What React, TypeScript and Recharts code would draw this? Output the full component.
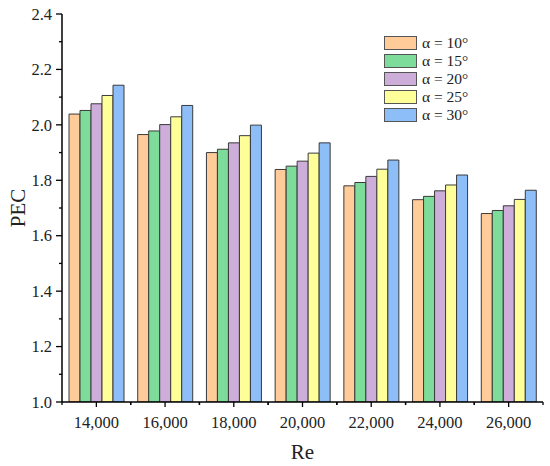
import React from 'react';
import { BarChart, Bar, XAxis, YAxis, Legend } from 'recharts';

const categories = ['14,000', '16,000', '18,000', '20,000', '22,000', '24,000', '26,000'];
const alpha10 = [2.039, 1.965, 1.900, 1.839, 1.780, 1.730, 1.680];
const alpha15 = [2.052, 1.978, 1.912, 1.851, 1.792, 1.742, 1.691];
const alpha20 = [2.076, 2.001, 1.935, 1.869, 1.814, 1.762, 1.708];
const alpha25 = [2.106, 2.029, 1.961, 1.898, 1.840, 1.783, 1.731];
const alpha30 = [2.143, 2.070, 1.999, 1.935, 1.873, 1.819, 1.764];
const seriesNames = ['α = 10°', 'α = 15°', 'α = 20°', 'α = 25°', 'α = 30°'];
const seriesColors = ['#FFCC99', '#7EDC9A', '#CDAEDB', '#FFFF99', '#8DBEF7'];
const yTicks = [1.0, 1.1, 1.2, 1.3, 1.4, 1.5, 1.6, 1.7, 1.8, 1.9, 2.0, 2.1, 2.2, 2.3, 2.4];

const data = categories.map((name, i) => ({
  name,
  a10: alpha10[i],
  a15: alpha15[i],
  a20: alpha20[i],
  a25: alpha25[i],
  a30: alpha30[i],
}));
const keys = ['a10', 'a15', 'a20', 'a25', 'a30'];

const FONT = '"Liberation Serif", "Times New Roman", serif';

const YTick = (props: any) => {
  const { x, y, payload } = props;
  const v = payload.value;
  const major = Math.round(v * 10) % 2 === 0;
  return (
    <g>
      <line x1={x - (major ? 6 : 3)} x2={x} y1={y} y2={y} stroke="#000" strokeWidth={1.3} />
      {major && (
        <text x={x - 10} y={y} dy="0.35em" textAnchor="end" fontFamily={FONT} fontSize={16.5} fill="#222">
          {v.toFixed(1)}
        </text>
      )}
    </g>
  );
};

const XTick = (props: any) => {
  const { x, y, payload } = props;
  const off = payload && typeof payload.offset === 'number' ? payload.offset : 0;
  return (
    <g>
      <line x1={x} x2={x} y1={y} y2={y + 5} stroke="#000" strokeWidth={1.3} />
      {off > 0 && <line x1={x - off} x2={x - off} y1={y} y2={y + 3} stroke="#000" strokeWidth={1.3} />}
      {off > 0 && <line x1={x + off} x2={x + off} y1={y} y2={y + 3} stroke="#000" strokeWidth={1.3} />}
      <text x={x} y={y + 26} textAnchor="middle" fontFamily={FONT} fontSize={16.5} fill="#222">
        {payload.value}
      </text>
    </g>
  );
};

const LegendContent = (props: any) => {
  const { payload } = props;
  return (
    <div style={{ fontFamily: FONT, fontSize: 15.5, color: '#222' }}>
      {(payload || []).map((p: any, i: number) => (
        <div key={i} style={{ display: 'flex', alignItems: 'center', height: 18 }}>
          <div
            style={{
              width: 31,
              height: 12,
              background: p.color,
              border: '1px solid #555',
              marginRight: 5,
            }}
          />
          <span style={{ lineHeight: '18px' }}>{p.value}</span>
        </div>
      ))}
    </div>
  );
};

export default function App() {
  return (
    <div style={{ position: 'absolute', left: 0, top: 0, width: 550, height: 466, background: '#fff' }}>
      <BarChart
        width={550}
        height={466}
        data={data}
        margin={{ top: 14, right: 7, bottom: 0, left: 0 }}
        barCategoryGap={7}
        barGap={0}
      >
        <XAxis
          dataKey="name"
          height={64}
          tickLine={false}
          tickSize={0}
          tickMargin={0}
          interval={0}
          axisLine={{ stroke: '#000', strokeWidth: 1.5 }}
          tick={<XTick />}
          label={{ value: 'Re', position: 'insideBottom', offset: 7, style: { fontFamily: FONT, fontSize: 21, fill: '#222' } }}
        />
        <XAxis
          xAxisId="top"
          dataKey="name"
          orientation="top"
          height={0}
          tick={false}
          tickLine={false}
          axisLine={{ stroke: '#000', strokeWidth: 1.5 }}
        />
        <YAxis
          width={62}
          domain={[1.0, 2.4]}
          ticks={yTicks}
          interval={0}
          tickLine={false}
          tickSize={0}
          tickMargin={0}
          allowDataOverflow
          axisLine={{ stroke: '#000', strokeWidth: 1.5 }}
          tick={<YTick />}
          label={{ value: 'PEC', angle: -90, position: 'insideLeft', offset: 18, style: { textAnchor: 'middle', fontFamily: FONT, fontSize: 21, fill: '#222' } }}
        />
        <YAxis
          yAxisId="right"
          orientation="right"
          width={0}
          domain={[1.0, 2.4]}
          tick={false}
          tickLine={false}
          axisLine={{ stroke: '#000', strokeWidth: 1.5 }}
        />
        <Legend
          layout="horizontal"
          verticalAlign="middle"
          align="center"
          content={<LegendContent />}
          wrapperStyle={{ left: 384, top: 34, width: 100, height: 92 }}
        />
        {keys.map((k, i) => (
          <Bar
            key={k}
            dataKey={k}
            name={seriesNames[i]}
            fill={seriesColors[i]}
            stroke="#3a3a3a"
            strokeWidth={1}
            isAnimationActive={false}
          />
        ))}
      </BarChart>
    </div>
  );
}
